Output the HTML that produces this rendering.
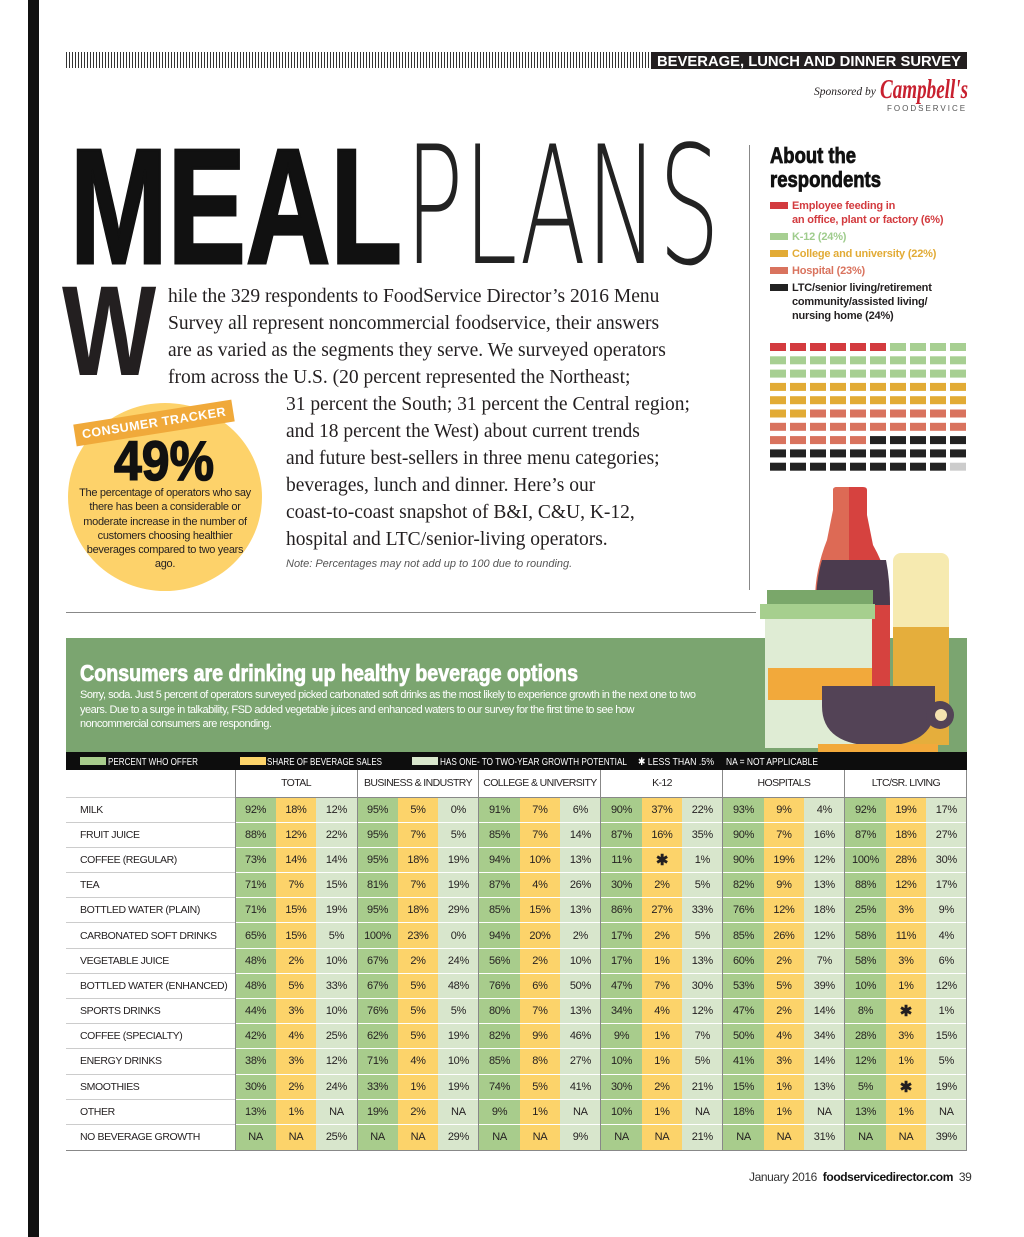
<!DOCTYPE html>
<html><head><meta charset="utf-8">
<style>
*{margin:0;padding:0;box-sizing:border-box}
body{width:1024px;height:1237px;position:relative;background:#fff;overflow:hidden;font-family:"Liberation Sans",sans-serif;color:#231f20}
.abs{position:absolute}
.serif{font-family:"Liberation Serif",serif}
.cond{display:inline-block;transform-origin:left center;white-space:nowrap}
table{border-collapse:collapse}
td{white-space:nowrap;overflow:hidden}
</style></head><body>
<div class="abs" style="left:28px;top:0;width:11px;height:1237px;background:#111"></div>
<div class="abs" style="left:66px;top:52px;width:585px;height:16px;background:repeating-linear-gradient(90deg,#333 0 1px,#fff 1px 3px)"></div>
<svg class="abs" style="left:651px;top:52px" width="316" height="17"><rect width="316" height="17" fill="#231f20"/><text x="6" y="14" font-size="15" font-weight="bold" fill="#fff" font-family="Liberation Sans" textLength="304" lengthAdjust="spacingAndGlyphs">BEVERAGE, LUNCH AND DINNER SURVEY</text></svg>
<div class="abs serif" style="left:814px;top:86px;font-style:italic;font-size:11.5px">Sponsored by</div>
<svg class="abs" style="left:880px;top:74px" width="90" height="30"><text x="0" y="24" font-family="Liberation Serif" font-style="italic" font-weight="bold" font-size="27" fill="#c8202f" textLength="88" lengthAdjust="spacingAndGlyphs">Campbell's</text></svg>
<div class="abs" style="left:887px;top:104px;font-size:8px;letter-spacing:2px;color:#555">FOODSERVICE</div>

<svg class="abs" style="left:0;top:120px" width="740" height="160">
<text x="70" y="143" font-family="Liberation Sans" font-weight="bold" font-size="164" fill="#111" stroke="#111" stroke-width="3" textLength="332" lengthAdjust="spacingAndGlyphs">MEAL</text>
<text x="405" y="143" font-family="DejaVu Sans" font-weight="200" font-size="164" fill="#222" textLength="315" lengthAdjust="spacingAndGlyphs" style="font-family:'DejaVu Sans ExtraLight','DejaVu Sans',sans-serif">PLANS</text>
</svg>

<div class="abs" style="left:62px;top:268px;font-size:128px;font-weight:900;line-height:128px"><span class="cond" style="transform:scaleX(0.78)">W</span></div>
<div class="abs serif" style="left:168px;top:283px;width:580px;font-size:19.5px;line-height:27px;white-space:nowrap">
hile the 329 respondents to FoodService Director’s 2016 Menu<br>Survey all represent noncommercial foodservice, their answers<br>are as varied as the segments they serve. We surveyed operators<br>from across the U.S. (20 percent represented the Northeast;</div>
<div class="abs serif" style="left:286px;top:391px;width:440px;font-size:19.5px;line-height:27px;white-space:nowrap">31 percent the South; 31 percent the Central region;<br>and 18 percent the West) about current trends<br>and future best-sellers in three menu categories;<br>beverages, lunch and dinner. Here’s our<br>coast-to-coast snapshot of B&amp;I, C&amp;U, K-12,<br>hospital and LTC/senior-living operators.</div>
<div class="abs" style="left:286px;top:558px;font-size:11px;font-style:italic;color:#555">Note: Percentages may not add up to 100 due to rounding.</div>

<div class="abs" style="left:68px;top:403px;width:194px;height:188px;border-radius:50%;background:#fdd26a"></div>
<div class="abs" style="left:74px;top:412px;width:160px;height:22px;background:#f0a93a;color:#fff;font-weight:bold;font-size:12.5px;line-height:22px;text-align:center;transform:rotate(-9deg);letter-spacing:.5px">CONSUMER TRACKER</div>
<svg class="abs" style="left:114px;top:436px" width="102" height="50"><text x="0" y="44" font-family="Liberation Sans" font-weight="bold" font-size="56" fill="#111" stroke="#111" stroke-width="1.5" textLength="100" lengthAdjust="spacingAndGlyphs">49%</text></svg>
<div class="abs" style="left:78px;top:486px;width:174px;text-align:center;font-size:11px;line-height:14.3px;letter-spacing:-.3px">The percentage of operators who say there has been a considerable or moderate increase in the number of customers choosing healthier beverages compared to two years ago.</div>

<div class="abs" style="left:749px;top:145px;width:1px;height:445px;background:#888"></div>
<svg class="abs" style="left:770px;top:142px" width="120" height="50"><text x="0" y="21" font-family="Liberation Sans" font-weight="bold" stroke="#111" stroke-width=".8" font-size="22" fill="#111" textLength="86" lengthAdjust="spacingAndGlyphs">About the</text><text x="0" y="45" font-family="Liberation Sans" font-weight="bold" stroke="#111" stroke-width=".8" font-size="22" fill="#111" textLength="111" lengthAdjust="spacingAndGlyphs">respondents</text></svg>
<div class="abs" style="left:770px;top:199px;font-size:11px;font-weight:bold;line-height:14px;letter-spacing:-.2px">
<div style="color:#d33b3f"><span style="display:inline-block;width:18px;height:7px;background:#d33b3f;margin-right:4px"></span>Employee feeding in<br><span style="padding-left:22px">an office, plant or factory (6%)</span></div>
<div style="color:#9fcc8d;margin-top:3px"><span style="display:inline-block;width:18px;height:7px;background:#a7cf92;margin-right:4px"></span>K-12 (24%)</div>
<div style="color:#e2ab35;margin-top:3px"><span style="display:inline-block;width:18px;height:7px;background:#e2ab35;margin-right:4px"></span>College and university (22%)</div>
<div style="color:#d9735e;margin-top:3px"><span style="display:inline-block;width:18px;height:7px;background:#d9735e;margin-right:4px"></span>Hospital (23%)</div>
<div style="margin-top:3px"><span style="display:inline-block;width:18px;height:7px;background:#222;margin-right:4px"></span>LTC/senior living/retirement<br><span style="padding-left:22px">community/assisted living/</span><br><span style="padding-left:22px">nursing home (24%)</span></div>
</div>
<svg class="abs" id="waffle" style="left:760px;top:335px" width="215" height="145"></svg>

<svg class="abs" style="left:0;top:0" width="1024" height="760">
<rect x="66" y="638" width="901" height="114" fill="#7ba570"/>
<path d="M833 490 q0 -3 4 -3 h26 q4 0 4 3 v25 l6 30 q17 30 17 60 v100 h-75 v-100 q0 -30 12 -60 l6 -30z" fill="#d6423f"/>
<path d="M833 490 q0 -3 4 -3 h12 v203 h-34 v-90 q0 -30 12 -60 l6 -30z" fill="#dd6a55"/>
<path d="M822 560 h64 q4 20 4 45 v0 h-74 q0 -25 6 -45z" fill="#4b3b4e"/>
<rect x="893" y="553" width="56" height="192" rx="8" fill="#f6eab0"/>
<rect x="893" y="627" width="56" height="118" fill="#e5ae3c"/>
<rect x="765" y="618" width="107" height="130" fill="#dfecd4"/>
<rect x="768" y="668" width="104" height="32" fill="#f2a93b"/>
<rect x="767" y="590" width="106" height="16" fill="#7aa76a"/>
<rect x="760" y="604" width="115" height="15" fill="#a6cf8e"/>
<path d="M822 686 h113 v20 q0 40 -56 40 q-57 0 -57 -40z" fill="#534356"/>
<circle cx="940" cy="715" r="14" fill="#534356"/><circle cx="941" cy="715" r="6" fill="#f4e2b0"/>
<rect x="818" y="744" width="120" height="8" fill="#f2a93b"/>
</svg>
<div class="abs" style="left:66px;top:612px;width:690px;height:1px;background:#888"></div>
<svg class="abs" style="left:80px;top:658px" width="520" height="30"><text x="0" y="23" font-family="Liberation Sans" font-weight="bold" stroke="#fff" stroke-width=".8" font-size="23" fill="#fff" textLength="498" lengthAdjust="spacingAndGlyphs">Consumers are drinking up healthy beverage options</text></svg>
<div class="abs" style="left:80px;top:688px;width:620px;color:#fff;font-size:11px;line-height:14.5px;letter-spacing:-.5px">Sorry, soda. Just 5 percent of operators surveyed picked carbonated soft drinks as the most likely to experience growth in the next one to two years. Due to a surge in talkability, FSD added vegetable juices and enhanced waters to our survey for the first time to see how noncommercial consumers are responding.</div>

<svg class="abs" style="left:66px;top:752px" width="901" height="18" font-family="Liberation Sans" font-size="10.5" fill="#fff">
<rect width="901" height="18" fill="#0d0d0d"/>
<rect x="14" y="5" width="26" height="8" fill="#a8cc8c"/><text x="42" y="13" textLength="90" lengthAdjust="spacingAndGlyphs">PERCENT WHO OFFER</text>
<rect x="174" y="5" width="26" height="8" fill="#fcd36a"/><text x="201" y="13" textLength="115" lengthAdjust="spacingAndGlyphs">SHARE OF BEVERAGE SALES</text>
<rect x="346" y="5" width="26" height="8" fill="#d8e6cc"/><text x="374" y="13" textLength="187" lengthAdjust="spacingAndGlyphs">HAS ONE- TO TWO-YEAR GROWTH POTENTIAL</text>
<text x="572" y="13" textLength="76" lengthAdjust="spacingAndGlyphs">✱ LESS THAN .5%</text>
<text x="660" y="13" textLength="92" lengthAdjust="spacingAndGlyphs">NA = NOT APPLICABLE</text>
</svg>
<table class="abs" id="tbl" style="left:66px;top:770px;width:901px;font-size:11px;table-layout:fixed"></table>
<div class="abs" style="left:66px;top:1150px;width:901px;height:1px;background:#888"></div>
<div class="abs" style="left:749px;top:1170px;font-size:12px;color:#333;letter-spacing:-.4px">January 2016 &nbsp;<b style="color:#111">foodservicedirector.com</b>&nbsp; 39</div>

<script>
const waffleCounts=[6,24,22,23,24,1];
const waffleColors=["#d33b3f","#a7cf92","#e2ab35","#d9735e","#222","#ccc"];
(function(){const s=document.getElementById('waffle');let i=0;
waffleCounts.forEach((c,k)=>{for(let j=0;j<c;j++){const r=document.createElementNS('http://www.w3.org/2000/svg','rect');
const col=i%10,row=Math.floor(i/10);r.setAttribute('x',10+col*20);r.setAttribute('y',8+row*13.3);r.setAttribute('width',16);r.setAttribute('height',8);r.setAttribute('fill',waffleColors[k]);


s.appendChild(r);i++;}});})();

const groups=["TOTAL","BUSINESS & INDUSTRY","COLLEGE & UNIVERSITY","K-12","HOSPITALS","LTC/SR. LIVING"];
const beverages=["MILK","FRUIT JUICE","COFFEE (REGULAR)","TEA","BOTTLED WATER (PLAIN)","CARBONATED SOFT DRINKS","VEGETABLE JUICE","BOTTLED WATER (ENHANCED)","SPORTS DRINKS","COFFEE (SPECIALTY)","ENERGY DRINKS","SMOOTHIES","OTHER","NO BEVERAGE GROWTH"];
const values=[
["92%","18%","12%","95%","5%","0%","91%","7%","6%","90%","37%","22%","93%","9%","4%","92%","19%","17%"],
["88%","12%","22%","95%","7%","5%","85%","7%","14%","87%","16%","35%","90%","7%","16%","87%","18%","27%"],
["73%","14%","14%","95%","18%","19%","94%","10%","13%","11%","✱","1%","90%","19%","12%","100%","28%","30%"],
["71%","7%","15%","81%","7%","19%","87%","4%","26%","30%","2%","5%","82%","9%","13%","88%","12%","17%"],
["71%","15%","19%","95%","18%","29%","85%","15%","13%","86%","27%","33%","76%","12%","18%","25%","3%","9%"],
["65%","15%","5%","100%","23%","0%","94%","20%","2%","17%","2%","5%","85%","26%","12%","58%","11%","4%"],
["48%","2%","10%","67%","2%","24%","56%","2%","10%","17%","1%","13%","60%","2%","7%","58%","3%","6%"],
["48%","5%","33%","67%","5%","48%","76%","6%","50%","47%","7%","30%","53%","5%","39%","10%","1%","12%"],
["44%","3%","10%","76%","5%","5%","80%","7%","13%","34%","4%","12%","47%","2%","14%","8%","✱","1%"],
["42%","4%","25%","62%","5%","19%","82%","9%","46%","9%","1%","7%","50%","4%","34%","28%","3%","15%"],
["38%","3%","12%","71%","4%","10%","85%","8%","27%","10%","1%","5%","41%","3%","14%","12%","1%","5%"],
["30%","2%","24%","33%","1%","19%","74%","5%","41%","30%","2%","21%","15%","1%","13%","5%","✱","19%"],
["13%","1%","NA","19%","2%","NA","9%","1%","NA","10%","1%","NA","18%","1%","NA","13%","1%","NA"],
["NA","NA","25%","NA","NA","29%","NA","NA","9%","NA","NA","21%","NA","NA","31%","NA","NA","39%"]];
const cellColors=["#a8cc8c","#fcd36a","#d8e6cc"];
(function(){const t=document.getElementById('tbl');
let cg='<colgroup><col style="width:169px">';for(let i=0;i<18;i++)cg+='<col style="width:40.67px">';cg+='</colgroup>';
let h='<tr style="height:27px"><td style="border-right:1px solid #888"></td>';
groups.forEach(g=>{h+='<td colspan="3" style="text-align:center;font-size:10.5px;letter-spacing:-.6px;border-right:1px solid #888;border-bottom:1px solid #888">'+g.replace('&','&amp;')+'</td>';});
h+='</tr>';
t.innerHTML=cg+h;
beverages.forEach((b,r)=>{const tr=document.createElement('tr');tr.style.height='25.2px';


let s='<td style="padding-left:14px;border-top:1px solid #ccc;border-right:1px solid #888;font-size:10.5px;letter-spacing:-.4px">'+b+'</td>';
values[r].forEach((v,c)=>{const bl=(c%3==2)?'border-right:1px solid #888;':'';
s+='<td style="background:'+cellColors[c%3]+';text-align:center;border-top:1px solid #fff;letter-spacing:-.3px;'+bl+(v=='✱'?'font-size:15px;font-weight:bold':'')+'">'+v+'</td>';});
tr.innerHTML=s;t.appendChild(tr);});
t.querySelectorAll('td').forEach(td=>{});
})();
</script>
</body></html>
